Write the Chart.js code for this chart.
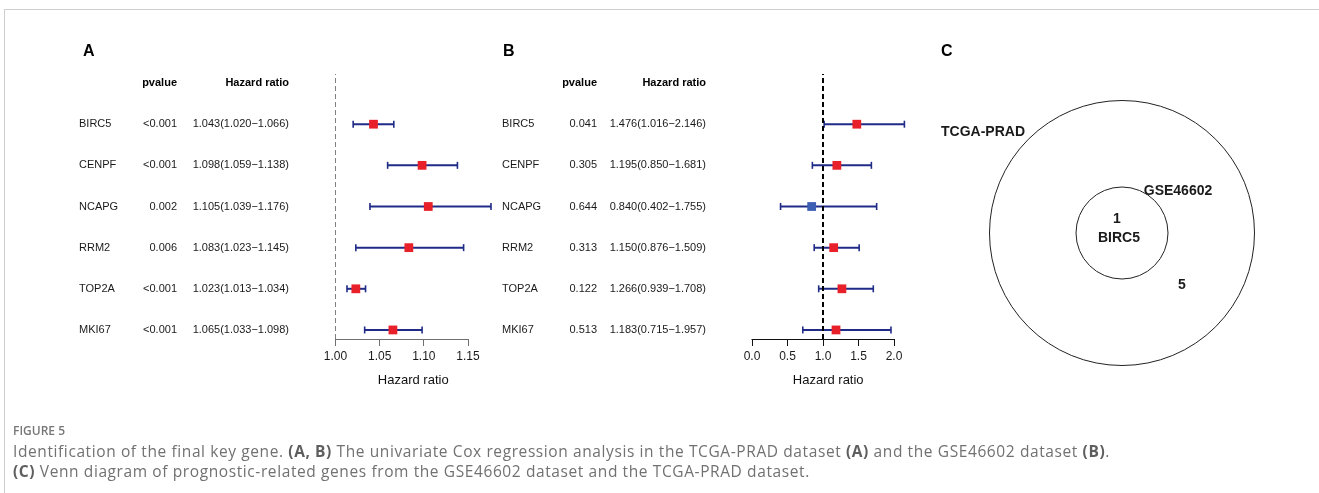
<!DOCTYPE html>
<html>
<head>
<meta charset="utf-8">
<title>Figure 5</title>
<script src="https://cdn.jsdelivr.net/npm/chart.js@4.4.1/dist/chart.umd.min.js"></script>
<style>
  html, body { margin: 0; padding: 0; background: #fff; }
  body { width: 1319px; height: 493px; position: relative; overflow: hidden; }
  #frame { position: absolute; left: 4px; top: 9px; right: -2px; bottom: -2px;
           border-top: 1px solid #cfcfcf; border-left: 1px solid #cfcfcf; }
  canvas { position: absolute; }
  #forestA { left: 0; top: 0; }
  #forestB { left: 420px; top: 0; }
  #venn { left: 920px; top: 30px; }
  #caption { position: absolute; left: 13px; top: 421px; font-family: "Open Sans", sans-serif;
             font-size: 15.5px; letter-spacing: 0.6px; line-height: 20px; color: #717171; white-space: nowrap; }
  #caption .fig { font-size: 12px; letter-spacing: 0; font-weight: 600; color: #777; }
  #caption b { font-weight: 700; color: #5e5e5e; }
</style>
</head>
<body>
<div id="frame"></div>
<canvas id="forestA" width="520" height="400"></canvas>
<canvas id="forestB" width="500" height="400"></canvas>
<canvas id="venn" width="404" height="406"></canvas>
<div id="caption">
  <div class="fig">FIGURE 5</div>
  <div>Identification of the final key gene. <b>(A, B)</b> The univariate Cox regression analysis in the TCGA-PRAD dataset <b>(A)</b> and the GSE46602 dataset <b>(B)</b>.</div>
  <div><b>(C)</b> Venn diagram of prognostic-related genes from the GSE46602 dataset and the TCGA-PRAD dataset.</div>
</div>
<script>
// genes communs aux deux forest plots
var genes = ["BIRC5", "CENPF", "NCAPG", "RRM2", "TOP2A", "MKI67"];

// A : TCGA-PRAD
var pvalueA = ["<0.001", "<0.001", "0.002", "0.006", "<0.001", "<0.001"];
var hrA = [1.043, 1.098, 1.105, 1.083, 1.023, 1.065];
var lowA = [1.020, 1.059, 1.039, 1.023, 1.013, 1.033];
var highA = [1.066, 1.138, 1.176, 1.145, 1.034, 1.098];
var ticksA = [1.00, 1.05, 1.10, 1.15];
var tickLabelsA = ["1.00", "1.05", "1.10", "1.15"];

// B : GSE46602
var pvalueB = ["0.041", "0.305", "0.644", "0.313", "0.122", "0.513"];
var hrB = [1.476, 1.195, 0.840, 1.150, 1.266, 1.183];
var lowB = [1.016, 0.850, 0.402, 0.876, 0.939, 0.715];
var highB = [2.146, 1.681, 1.755, 1.509, 1.708, 1.957];
var ticksB = [0.0, 0.5, 1.0, 1.5, 2.0];
var tickLabelsB = ["0.0", "0.5", "1.0", "1.5", "2.0"];

// C : Venn
var vennSets = ["TCGA-PRAD", "GSE46602"];
var vennOnlyTcga = 5;
var vennShared = 1;
var vennSharedGenes = ["BIRC5"];

var NAVY = "#1f2b87";
var RED = "#e8202a";
var BLUE = "#3c5fb4";
var FONT = "'Liberation Sans', Arial, Helvetica, sans-serif";
var Y_MIN = 0.78, Y_MAX = 7.22;

Chart.defaults.font.family = FONT;
Chart.defaults.color = "#111";

// texte du tableau (gene, pvalue, HR) + ligne d'axe limitee aux ticks
var forestText = {
  id: "forestText",
  afterDraw: function (chart, args, o) {
    var ctx = chart.ctx;
    var xs = chart.scales.x, ys = chart.scales.y;
    var n = genes.length;
    ctx.save();
    ctx.strokeStyle = o.axisColor;
    ctx.lineWidth = 1;
    ctx.beginPath();
    var yb = Math.round(chart.chartArea.bottom) + 0.5;
    ctx.moveTo(xs.getPixelForValue(o.ticks[0]) - 0.5, yb);
    ctx.lineTo(xs.getPixelForValue(o.ticks[o.ticks.length - 1]) + 0.5, yb);
    ctx.stroke();

    ctx.fillStyle = "#000";
    ctx.textBaseline = "middle";
    ctx.font = "bold 16px " + FONT;
    ctx.textAlign = "left";
    ctx.fillText(o.letter, 83, 52);

    var yHead = ys.getPixelForValue(n + 1);
    ctx.font = "bold 11px " + FONT;
    ctx.textAlign = "right";
    ctx.fillText("pvalue", o.pX, yHead);
    ctx.fillText("Hazard ratio", o.hrX, yHead);

    ctx.font = "11px " + FONT;
    ctx.fillStyle = "#1a1a1a";
    genes.forEach(function (g, i) {
      var yy = ys.getPixelForValue(n - i);
      ctx.textAlign = "left";
      ctx.fillText(g, o.geneX, yy);
      ctx.textAlign = "right";
      ctx.fillText(o.pvals[i], o.pX, yy);
      var txt = o.hr[i].toFixed(3) + "(" + o.low[i].toFixed(3) + "\u2212" + o.high[i].toFixed(3) + ")";
      ctx.fillText(txt, o.hrX, yy);
    });
    ctx.restore();
  }
};

function makeForest(id, o) {
  var n = o.hr.length;
  var datasets = [];

  // points (carres)
  datasets.push({
    order: 0,
    data: o.hr.map(function (v, i) { return { x: v, y: n - i }; }),
    pointStyle: "rect",
    pointRadius: 6.2,
    pointBorderWidth: 0,
    pointBackgroundColor: o.hr.map(function (v) { return v >= 1 ? RED : BLUE; }),
    clip: false
  });

  // ligne verticale HR = 1
  datasets.push({
    order: 1,
    data: [{ x: 1, y: Y_MIN }, { x: 1, y: Y_MAX }],
    showLine: true,
    borderColor: "#000",
    borderWidth: o.refWidth,
    borderDash: o.refDash,
    pointRadius: 0
  });

  // intervalles de confiance
  o.hr.forEach(function (v, i) {
    datasets.push({
      order: 2,
      data: [{ x: o.low[i], y: n - i }, { x: o.high[i], y: n - i }],
      showLine: true,
      borderColor: NAVY,
      borderWidth: 2,
      pointStyle: "line",
      rotation: 90,
      pointRadius: 3.5,
      pointBorderColor: NAVY,
      pointBorderWidth: 1.6,
      clip: false
    });
  });

  return new Chart(document.getElementById(id), {
    type: "scatter",
    data: { datasets: datasets },
    options: {
      responsive: false,
      animation: false,
      events: [],
      layout: { padding: o.padding },
      plugins: {
        legend: { display: false },
        tooltip: { enabled: false },
        forestText: {
          letter: o.letter, ticks: o.ticks, axisColor: o.axisColor,
          geneX: o.geneX, pX: o.pX, hrX: o.hrX,
          pvals: o.pvals, hr: o.hr, low: o.low, high: o.high
        }
      },
      scales: {
        x: {
          type: "linear",
          min: Math.min(o.ticks[0], Math.min.apply(null, o.low)),
          max: Math.max(o.ticks[o.ticks.length - 1], Math.max.apply(null, o.high)),
          afterBuildTicks: function (scale) {
            scale.ticks = o.ticks.map(function (v) { return { value: v }; });
          },
          afterFit: function (scale) { scale.height = 55; },
          border: { display: false },
          grid: { display: true, drawOnChartArea: false, drawTicks: true, tickLength: 7,
                  color: o.axisColor, tickColor: o.axisColor },
          ticks: {
            autoSkip: false, maxRotation: 0, padding: 3,
            font: { size: 12 }, color: "#1a1a1a",
            callback: function (v, i) { return o.tickLabels[i]; }
          },
          title: { display: true, text: "Hazard ratio", font: { size: 13 }, color: "#111",
                   padding: { top: 0, bottom: 6 } }
        },
        y: { type: "linear", display: false, min: Y_MIN, max: Y_MAX }
      }
    },
    plugins: [forestText]
  });
}

makeForest("forestA", {
  letter: "A", hr: hrA, low: lowA, high: highA, pvals: pvalueA,
  ticks: ticksA, tickLabels: tickLabelsA, axisColor: "#707070",
  refWidth: 1, refDash: [5, 3],
  geneX: 79, pX: 177, hrX: 289,
  padding: { left: 335.5, right: 29, top: 74, bottom: 6 }
});

makeForest("forestB", {
  letter: "B", hr: hrB, low: lowB, high: highB, pvals: pvalueB,
  ticks: ticksB, tickLabels: tickLabelsB, axisColor: "#111",
  refWidth: 2, refDash: [5, 3],
  geneX: 82, pX: 177, hrX: 286,
  padding: { left: 332, right: 15.6, top: 74, bottom: 6 }
});

// diagramme de Venn
var vennText = {
  id: "vennText",
  afterDraw: function (chart) {
    var ctx = chart.ctx;
    var cx = chart.scales.x.getPixelForValue(0);
    var cy = chart.scales.y.getPixelForValue(0);
    ctx.save();
    ctx.fillStyle = "#000";
    ctx.textBaseline = "middle";
    ctx.font = "bold 16px " + FONT;
    ctx.textAlign = "left";
    ctx.fillText("C", 21, 22);
    ctx.font = "bold 14px " + FONT;
    ctx.fillStyle = "#1a1a1a";
    ctx.fillText(vennSets[0], cx - 181, cy - 101);
    ctx.textAlign = "center";
    ctx.fillText(vennSets[1], cx + 56, cy - 42);
    ctx.fillText(String(vennShared), cx - 5, cy - 14);
    ctx.fillText(vennSharedGenes.join(", "), cx - 3, cy + 5);
    ctx.fillText(String(vennOnlyTcga), cx + 60, cy + 52);
    ctx.restore();
  }
};

new Chart(document.getElementById("venn"), {
  type: "scatter",
  data: {
    datasets: [
      { data: [{ x: 0, y: 0 }], pointRadius: 46, pointBorderColor: "#222", pointBorderWidth: 1,
        pointBackgroundColor: "rgba(0,0,0,0)", clip: false },
      { data: [{ x: 0, y: 0 }], pointRadius: 132.5, pointBorderColor: "#222", pointBorderWidth: 1,
        pointBackgroundColor: "rgba(0,0,0,0)", clip: false }
    ]
  },
  options: {
    responsive: false,
    animation: false,
    events: [],
    layout: { padding: 0 },
    plugins: { legend: { display: false }, tooltip: { enabled: false } },
    scales: {
      x: { display: false, min: -1, max: 1 },
      y: { display: false, min: -1, max: 1 }
    }
  },
  plugins: [vennText]
});
</script>
</body>
</html>
